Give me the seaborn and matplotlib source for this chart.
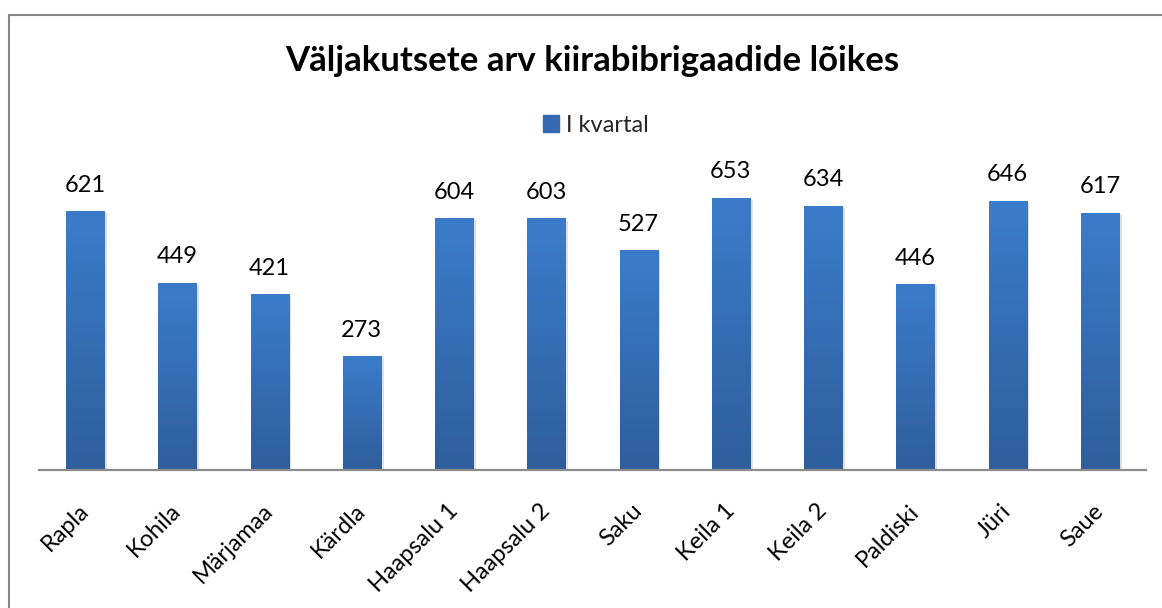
import numpy as np
import pandas as pd
import matplotlib
matplotlib.use("Agg")
import matplotlib.pyplot as plt
import matplotlib.patches as mpatches
import matplotlib.transforms as mtransforms
from matplotlib.colors import LinearSegmentedColormap
import seaborn as sns

# andmed
brigaadid = ["Rapla", "Kohila", "Märjamaa", "Kärdla", "Haapsalu 1", "Haapsalu 2",
             "Saku", "Keila 1", "Keila 2", "Paldiski", "Jüri", "Saue"]
valjakutsed = [621, 449, 421, 273, 604, 603, 527, 653, 634, 446, 646, 617]
seeria = "I kvartal"
pealkiri = "Väljakutsete arv kiirabibrigaadide lõikes"

df = pd.DataFrame({"brigaad": brigaadid, "arv": valjakutsed})

sns.set_theme(style="white")
plt.rcParams["font.family"] = ["Lato", "DejaVu Sans"]

fig = plt.figure(figsize=(11.62, 6.08), dpi=100)
ax = fig.add_axes([39 / 1162, 1 - 470 / 608, (1146 - 39) / 1162, 292 / 608])

sns.barplot(data=df, x="brigaad", y="arv", color="#3a72bd", width=0.412, ax=ax)

# gradient tulpadele (hele üleval, tume all)
cmap = LinearSegmentedColormap.from_list("exc", ["#2e5e9c", "#3b7cca"])
grad = np.linspace(0, 1, 256).reshape(-1, 1)
shadow_tr = ax.transData + mtransforms.ScaledTranslation(2 / 72, -1.5 / 72, fig.dpi_scale_trans)
for p in ax.patches:
    x, w, h = p.get_x(), p.get_width(), p.get_height()
    sh = mpatches.Rectangle((x, 0), w, h, transform=shadow_tr, color="#000000",
                            alpha=0.12, lw=0, zorder=1)
    ax.add_patch(sh)
    im = ax.imshow(grad, cmap=cmap, origin="lower", aspect="auto",
                   extent=[x, x + w, 0, h], zorder=2)
    im.set_clip_path(p)
    p.set_facecolor("none")
    p.set_edgecolor("none")

ax.set_xlim(-0.5, len(brigaadid) - 0.5)
ax.set_ylim(0, 700)

ax.bar_label(ax.containers[0], padding=11, fontsize=17, color="#000000")

ax.set_xlabel("")
ax.set_ylabel("")
ax.set_yticks([])
ax.tick_params(axis="x", length=0, pad=30.5, labelsize=17, labelcolor="#000000")
nihe = mtransforms.ScaledTranslation(5 / 100, 0, fig.dpi_scale_trans)
for lbl in ax.get_xticklabels():
    lbl.set_rotation(45)
    lbl.set_ha("right")
    lbl.set_va("baseline")
    lbl.set_rotation_mode("anchor")
    lbl.set_transform(lbl.get_transform() + nihe)

for s in ["top", "left", "right"]:
    ax.spines[s].set_visible(False)
ax.spines["bottom"].set_color("#8c8c8c")
ax.spines["bottom"].set_linewidth(1.6)

# pealkiri ja legend
fig.text(592 / 1162, 1 - 71 / 608, pealkiri, ha="center", va="baseline",
         fontsize=25, fontweight="bold", color="#000000")
handle = mpatches.Patch(color="#3669b0", label=seeria)
fig.legend(handles=[handle], loc="center", bbox_to_anchor=(596 / 1162, 1 - 125 / 608),
           frameon=False, fontsize=17, handlelength=0.7, handleheight=0.7,
           handletextpad=0.3, borderpad=0)

# diagrammi raam
raam = mpatches.Rectangle((8.5 / 1162, -0.1), 1.2, 1.1 - 15 / 608,
                          transform=fig.transFigure, fill=False,
                          edgecolor="#868686", lw=1.5)
fig.patches.append(raam)

fig.savefig("out.png", dpi=100)
